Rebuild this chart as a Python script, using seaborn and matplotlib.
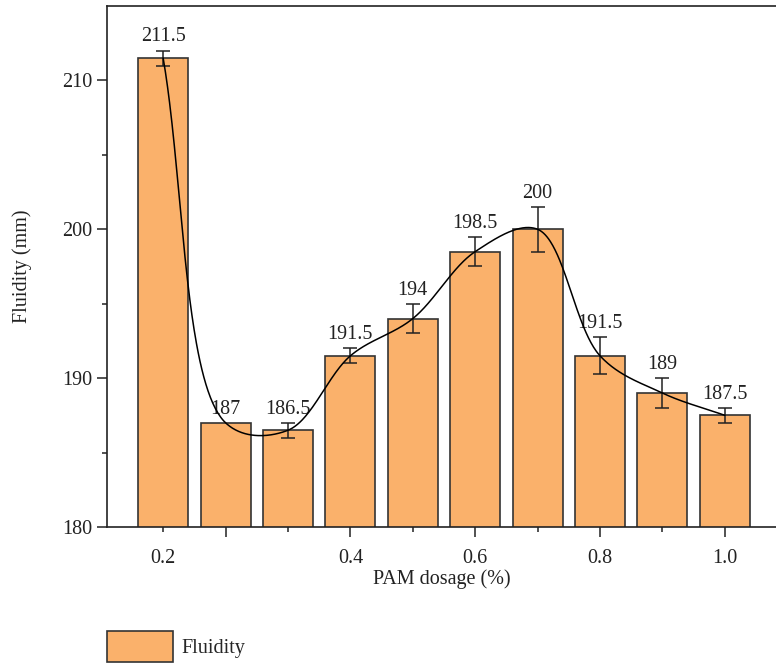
import numpy as np
import pandas as pd
import matplotlib
matplotlib.use("Agg")
import matplotlib.pyplot as plt
import seaborn as sns

# PAM dosage series
dosage_ids = ["d1", "d2", "d3", "d4", "d5", "d6", "d7", "d8", "d9", "d10"]
fluidity = [211.5, 187, 186.5, 191.5, 194, 198.5, 200, 191.5, 189, 187.5]
fluidity_err = [0.5, 0.0, 0.5, 0.5, 1.0, 1.0, 1.5, 1.25, 1.0, 0.5]
value_labels = ["211.5", "187", "186.5", "191.5", "194", "198.5", "200", "191.5", "189", "187.5"]

# x-axis labelling: positions (bar index) and texts
label_pos = [0, 3, 5, 7, 9]
label_txt = ["0.2", "0.4", "0.6", "0.8", "1.0"]
major_pos = [1, 3, 5, 7, 9]
minor_pos = [0, 2, 4, 6, 8]

y_ticks = [180, 190, 200, 210]
y_minor = [185, 195, 205]

FS = 14.5


def centripetal_catmull_rom(x, y, sx, sy, per_seg=80):
    """Centripetal Catmull-Rom curve through (x, y); distances are measured
    after scaling x by sx and y by sy so the curve is smooth on screen."""
    P = np.column_stack([np.asarray(x, float) * sx, np.asarray(y, float) * sy])
    P = np.vstack([2 * P[0] - P[1], P, 2 * P[-1] - P[-2]])
    pts = []
    for i in range(1, len(P) - 2):
        p0, p1, p2, p3 = P[i - 1], P[i], P[i + 1], P[i + 2]
        t0 = 0.0
        t1 = t0 + np.linalg.norm(p1 - p0) ** 0.5
        t2 = t1 + np.linalg.norm(p2 - p1) ** 0.5
        t3 = t2 + np.linalg.norm(p3 - p2) ** 0.5
        ts = np.linspace(t1, t2, per_seg)[:, None]
        a1 = (t1 - ts) / (t1 - t0) * p0 + (ts - t0) / (t1 - t0) * p1
        a2 = (t2 - ts) / (t2 - t1) * p1 + (ts - t1) / (t2 - t1) * p2
        a3 = (t3 - ts) / (t3 - t2) * p2 + (ts - t2) / (t3 - t2) * p3
        b1 = (t2 - ts) / (t2 - t0) * a1 + (ts - t0) / (t2 - t0) * a2
        b2 = (t3 - ts) / (t3 - t1) * a2 + (ts - t1) / (t3 - t1) * a3
        c = (t2 - ts) / (t2 - t1) * b1 + (ts - t1) / (t2 - t1) * b2
        pts.append(c if i == 1 else c[1:])
    C = np.vstack(pts)
    return C[:, 0] / sx, C[:, 1] / sy


sns.set_theme(style="white")
plt.rcParams["font.family"] = ["Liberation Serif", "DejaVu Serif"]
plt.rcParams["axes.edgecolor"] = "#222222"

df = pd.DataFrame({"dose": dosage_ids, "fluidity": fluidity})

fig = plt.figure(figsize=(7.76, 6.66), dpi=100)
ax = fig.add_axes([107 / 776, 1 - 527 / 666, (776 - 107) / 776, (527 - 6) / 666])

bar_color = "#FAB16B"
sns.barplot(data=df, x="dose", y="fluidity", order=dosage_ids, color=bar_color,
            saturation=1, errorbar=None, width=0.8, edgecolor="#333333",
            linewidth=1.2, ax=ax, label="Fluidity")
if ax.get_legend() is not None:
    ax.get_legend().remove()

xpos = np.arange(len(fluidity))
err = np.asarray(fluidity_err)
has_err = err > 0
ax.errorbar(xpos[has_err], np.asarray(fluidity)[has_err], yerr=err[has_err],
            fmt="none", ecolor="#222222", elinewidth=1.1, capsize=5,
            capthick=1.1, zorder=4)

cx, cy = centripetal_catmull_rom(xpos, fluidity, sx=62.4, sy=14.9)
ax.plot(cx, cy, color="black", lw=1.1, zorder=5)

for xi, v, e, t in zip(xpos, fluidity, fluidity_err, value_labels):
    ax.annotate(t, (xi, v + e), xytext=(0, 3), textcoords="offset points",
                ha="center", va="bottom", fontsize=FS, color="#222222")

ax.set_ylim(180, 215)
ax.set_xlim(-0.9, 9.82)
ax.set_yticks(y_ticks)
ax.set_yticks(y_minor, minor=True)
ax.set_xticks(major_pos)
ax.set_xticklabels([])
ax.set_xticks(minor_pos, minor=True)
for p, t in zip(label_pos, label_txt):
    ax.text(p, -0.043, t, transform=ax.get_xaxis_transform(), ha="center",
            va="top", fontsize=FS, color="#222222")

ax.tick_params(axis="both", which="major", direction="out", length=7, width=1.1,
               color="#222222", labelsize=FS, labelcolor="#222222",
               bottom=True, left=True)
ax.tick_params(axis="both", which="minor", direction="out", length=3.5, width=1.1,
               color="#222222", bottom=True, left=True)

for s in ["left", "top", "bottom"]:
    ax.spines[s].set_visible(True)
    ax.spines[s].set_linewidth(1.2)
ax.spines["right"].set_visible(False)

ax.set_xlabel("PAM dosage (%)", fontsize=FS, color="#222222", labelpad=20)
ax.set_ylabel("Fluidity (mm)", fontsize=FS, color="#222222", labelpad=22)

handles, labels = ax.get_legend_handles_labels()
fig.legend(handles[:1], labels[:1], loc="lower left",
           bbox_to_anchor=(95 / 776, -0.012), frameon=False, fontsize=FS,
           handlelength=3.25, handleheight=2.0, handletextpad=0.45,
           borderaxespad=0.2)

fig.savefig("out.png", dpi=100)
